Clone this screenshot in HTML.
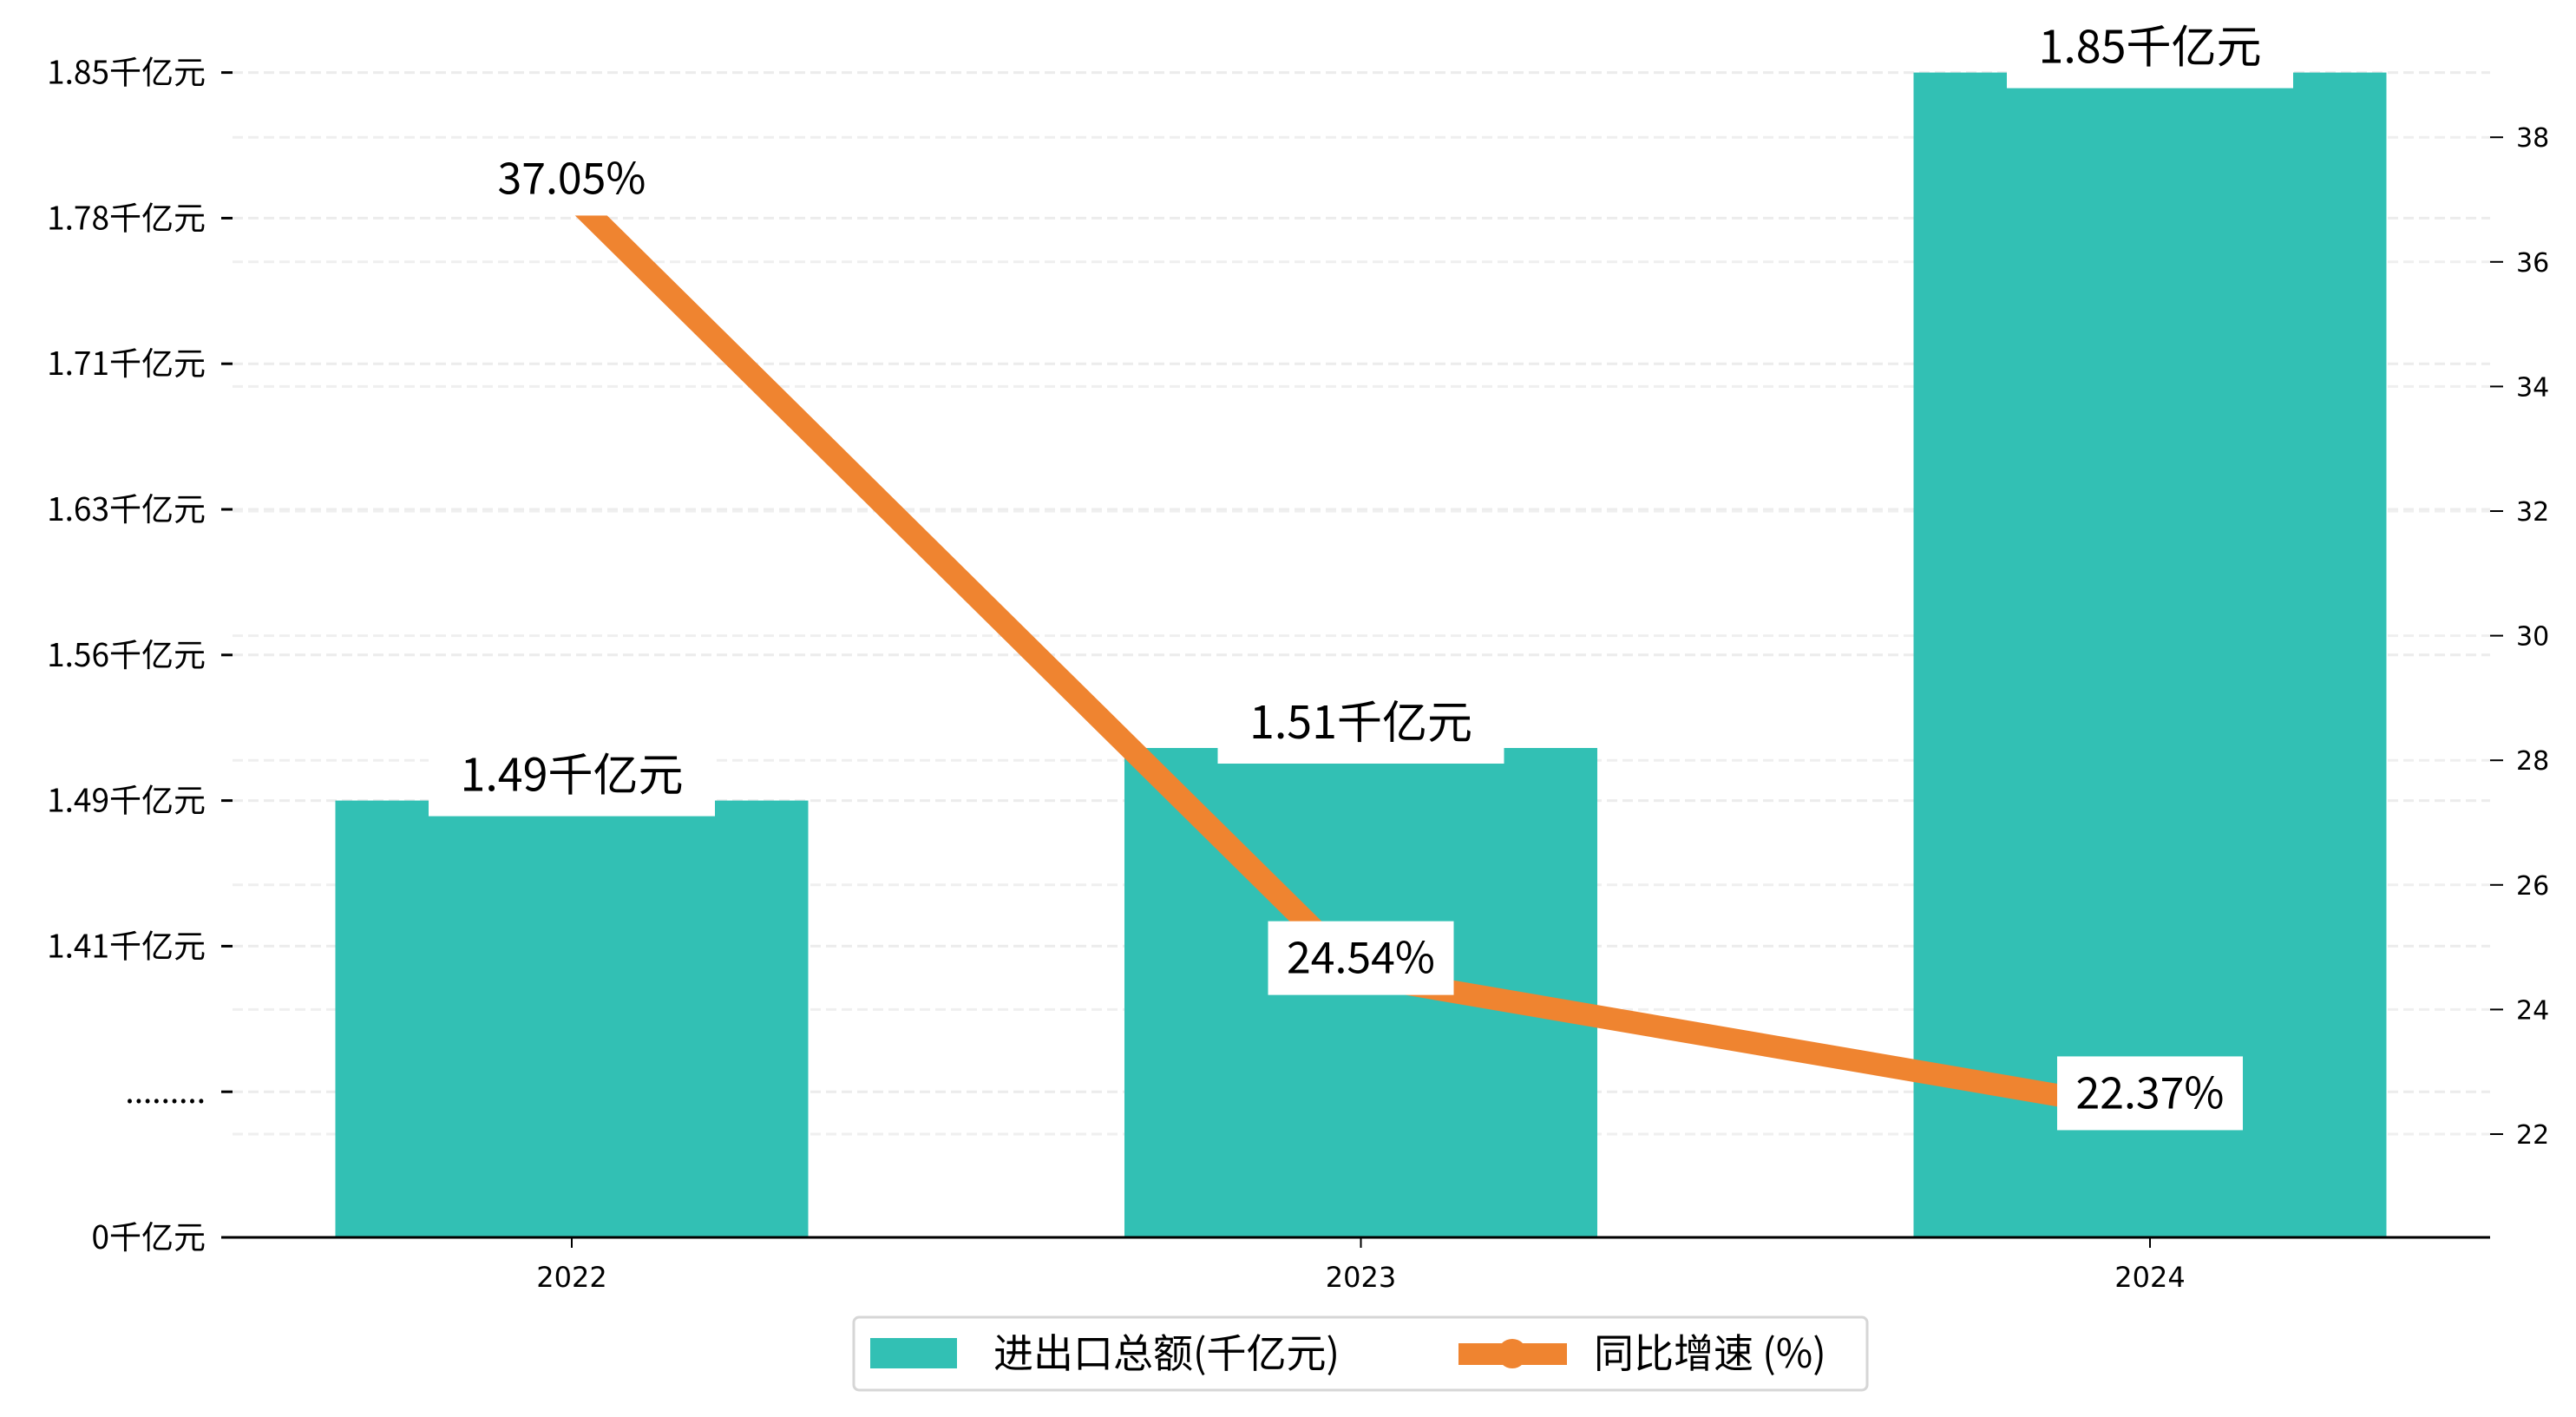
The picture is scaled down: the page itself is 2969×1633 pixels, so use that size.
<!DOCTYPE html>
<html><head><meta charset="utf-8">
<style>
html,body{margin:0;padding:0;background:#fff;}
svg{display:block;}
text{font-family:"WenQuanYi Zen Hei","Noto Sans CJK SC",sans-serif;}
.r{font-family:"DejaVu Sans","Liberation Sans",sans-serif;}
</style></head>
<body>
<svg id="chart" width="2969" height="1633" viewBox="0 0 2969 1633" xmlns="http://www.w3.org/2000/svg"></svg>
<script>
const categories = ["2022","2023","2024"];
const barValues = [1.49, 1.516, 1.85];
const barLabels = ["1.49千亿元","1.51千亿元","1.85千亿元"];
const growthValues = [37.05, 24.54, 22.37];
const growthLabels = ["37.05%","24.54%","22.37%"];
const leftTickLabels = ["0千亿元",".........","1.41千亿元","1.49千亿元","1.56千亿元","1.63千亿元","1.71千亿元","1.78千亿元","1.85千亿元"];
const rightTicks = [22,24,26,28,30,32,34,36,38];

const NS="http://www.w3.org/2000/svg";
const svg=document.getElementById('chart');
function mk(tag,attrs,parent){const e=document.createElementNS(NS,tag);for(const k in attrs)e.setAttribute(k,attrs[k]);(parent||svg).appendChild(e);return e;}

const plotL=268, plotR=2870, y0=1426, step=167.8;
const xC=i=>659+i*909.5;
const barW=545;
const vmin=1.418, vmax=1.85;
function yLeft(v){ if(v<=0) return y0; return y0-((v-vmin)/(vmax-vmin)*6+2)*step; }
function yLeftIdx(i){return y0-i*step;}
function yRight(v){return 1307-(v-22)*71.8;}

for(let i=1;i<leftTickLabels.length;i++){
  const g=mk('line',{x1:plotL,x2:plotR,y1:yLeftIdx(i),y2:yLeftIdx(i),stroke:'#ececec','stroke-width':3,'stroke-dasharray':'12,6'});
  
  
}
rightTicks.forEach(t=>{
  const g=mk('line',{x1:plotL,x2:plotR,y1:yRight(t),y2:yRight(t),stroke:'#efefef','stroke-width':3,'stroke-dasharray':'12,6'});
  
  
});

categories.forEach((c,i)=>{
  const yt=yLeft(barValues[i]);
  const b=mk('rect',{x:xC(i)-barW/2,y:yt,width:barW,height:y0-yt,fill:'#32c0b4'});
  
  
});

const ax=mk('line',{x1:255,x2:plotR,y1:y0,y2:y0,stroke:'#000','stroke-width':3});


categories.forEach((c,i)=>{
  mk('line',{x1:xC(i),x2:xC(i),y1:y0,y2:y0+12,stroke:'#000','stroke-width':2});
  const t=mk('text',{x:xC(i),y:y0+57,'text-anchor':'middle','font-size':32,fill:'#000'});
  t.setAttribute('class','r');
  t.textContent=c;
  
  
});
leftTickLabels.forEach((l,i)=>{
  const y=yLeftIdx(i);
  mk('line',{x1:255,x2:268,y1:y,y2:y,stroke:'#000','stroke-width':3});
  const t=mk('text',{x:237,y:y+13,'text-anchor':'end','font-size':37,fill:'#000'});
  t.textContent=l;
  
  
});
rightTicks.forEach(v=>{
  const y=yRight(v);
  mk('line',{x1:2870,x2:2885,y1:y,y2:y,stroke:'#000','stroke-width':2});
  const t=mk('text',{x:2900,y:y+11,'font-size':30,fill:'#000'});
  t.setAttribute('class','r');
  t.textContent=v;
  
  
});

const pts=growthValues.map((v,i)=>xC(i)+','+yRight(v)).join(' ');
const pl=mk('polyline',{points:pts,fill:'none',stroke:'#ef8430','stroke-width':26,'stroke-linejoin':'round'});



categories.forEach((c,i)=>{
  const yt=yLeft(barValues[i]);
  const r=mk('rect',{x:xC(i)-165,y:yt-52,width:330,height:70,fill:'#fff'});
  
  
  const t=mk('text',{x:xC(i),y:yt-11,'text-anchor':'middle','font-size':52,fill:'#000'});
  t.textContent=barLabels[i];
  
  
});
growthValues.forEach((v,i)=>{
  const y=yRight(v);
  const r=mk('rect',{x:xC(i)-107,y:y-63,width:214,height:85,fill:'#fff'});
  
  
  const t=mk('text',{x:xC(i),y:y-3,'text-anchor':'middle','font-size':50,fill:'#000'});
  t.textContent=growthLabels[i];
  
  
});

const lg=mk('g',{});


mk('rect',{x:984,y:1518,width:1168,height:84,rx:6,fill:'#fff',stroke:'#d6d6d6','stroke-width':3},lg);
const p1=mk('rect',{x:1003,y:1542,width:100,height:35,fill:'#32c0b4'},lg);


const t1=mk('text',{x:1145,y:1576,'font-size':46,fill:'#000'},lg);
t1.textContent='进出口总额(千亿元)';


const p2=mk('rect',{x:1681,y:1548,width:125,height:25,fill:'#ef8430'},lg);


mk('circle',{cx:1743,cy:1560,r:17,fill:'#ef8430'},lg);
const t2=mk('text',{x:1837,y:1576,'font-size':46,fill:'#000'},lg);
t2.textContent='同比增速 (%)';


</script>
</body></html>
